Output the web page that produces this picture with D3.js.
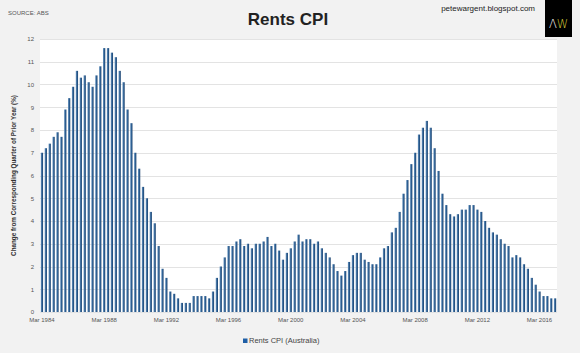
<!DOCTYPE html>
<html>
<head>
<meta charset="utf-8">
<script src="https://cdn.jsdelivr.net/npm/d3@7"></script>
<style>
  body { margin: 0; background: #f2f2f2; }
  svg { display: block; font-family: "Liberation Sans", Arial, sans-serif; }
  .grid line { stroke: #e3e3e3; stroke-width: 1px; }
  .axis text { fill: #555; font-size: 6px; }
  .axis path, .axis line { display: none; }
</style>
</head>
<body>
<div id="chart"></div>
<script>
// quarterly, Mar 1984 .. Mar 2017
var firstYear = 1984;
var quarterNames = ["Mar", "Jun", "Sep", "Dec"];

var rentsCpi = [
  7.0, 7.2, 7.4, 7.7, 7.9, 7.7, 8.9, 9.4, 9.9, 10.6, 10.3, 10.4, 10.1, 9.9, 10.4, 10.8,
  11.6, 11.6, 11.4, 11.2, 10.6, 10.1, 8.9, 8.3, 7.0, 6.3, 5.5, 5.0, 4.4, 3.9, 2.9, 1.9,
  1.5, 0.9, 0.8, 0.6, 0.4, 0.4, 0.4, 0.7, 0.7, 0.7, 0.7, 0.6, 0.9, 1.5, 2.0, 2.4,
  2.9, 2.9, 3.1, 3.2, 2.9, 3.0, 2.8, 3.0, 3.0, 3.1, 3.3, 2.9, 3.0, 2.7, 2.3, 2.6,
  2.8, 3.1, 3.4, 3.1, 3.2, 3.2, 3.0, 3.1, 2.8, 2.6, 2.4, 2.1, 1.8, 1.6, 1.8, 2.2,
  2.5, 2.6, 2.6, 2.3, 2.2, 2.1, 2.1, 2.4, 2.8, 2.9, 3.5, 3.7, 4.4, 5.2, 5.8, 6.5,
  7.0, 7.8, 8.1, 8.4, 8.1, 7.2, 6.2, 5.2, 4.7, 4.3, 4.2, 4.3, 4.5, 4.5, 4.7, 4.7,
  4.5, 4.4, 4.0, 3.7, 3.5, 3.4, 3.2, 3.0, 2.9, 2.4, 2.5, 2.4, 2.1, 1.9, 1.5, 1.2,
  0.9, 0.7, 0.7, 0.6, 0.6
];

var tickLabels = ["Mar 1984", "Mar 1988", "Mar 1992", "Mar 1996", "Mar 2000",
                  "Mar 2004", "Mar 2008", "Mar 2012", "Mar 2016"];
var yTicks = [0, 1, 2, 3, 4, 5, 6, 7, 8, 9, 10, 11, 12];

var quarters = rentsCpi.map(function(d, i) {
  return quarterNames[i % 4] + " " + (firstYear + Math.floor(i / 4));
});
var data = rentsCpi.map(function(v, i) { return { q: quarters[i], value: v }; });

var W = 580, H = 353;
var margin = { top: 39, right: 23, bottom: 41, left: 40 },
    width = W - margin.left - margin.right,
    height = H - margin.top - margin.bottom;

var svg = d3.select("#chart").append("svg")
    .attr("width", W)
    .attr("height", H);

var defs = svg.append("defs");
var grad = defs.append("linearGradient")
    .attr("id", "barGrad")
    .attr("x1", "0%").attr("x2", "100%").attr("y1", "0%").attr("y2", "0%");
grad.append("stop").attr("offset", "0%").attr("stop-color", "#6d98c2");
grad.append("stop").attr("offset", "55%").attr("stop-color", "#2d5f92");
grad.append("stop").attr("offset", "100%").attr("stop-color", "#1c426e");

var x = d3.scaleBand().domain(quarters).range([0, width]).paddingInner(0.42).paddingOuter(0.21);
var y = d3.scaleLinear().domain([0, 12]).range([height, 0]);

var g = svg.append("g").attr("transform", "translate(" + margin.left + "," + margin.top + ")");

// plot background
g.append("rect")
    .attr("width", width)
    .attr("height", height)
    .attr("fill", "#fff");

g.append("g")
    .attr("class", "grid")
  .selectAll("line")
  .data(yTicks)
  .enter().append("line")
    .attr("x1", 0)
    .attr("x2", width)
    .attr("y1", function(d) { return Math.round(y(d)) + 0.5; })
    .attr("y2", function(d) { return Math.round(y(d)) + 0.5; });

g.selectAll(".bar")
    .data(data)
  .enter().append("rect")
    .attr("class", "bar")
    .attr("x", function(d) { return x(d.q); })
    .attr("width", x.bandwidth())
    .attr("y", function(d) { return y(d.value); })
    .attr("height", function(d) { return height - y(d.value); })
    .attr("fill", "url(#barGrad)");

g.append("g")
    .attr("class", "axis")
    .call(d3.axisLeft(y).tickValues(yTicks).tickSize(0).tickPadding(6));

var xAxis = d3.axisBottom(x)
    .tickValues(tickLabels)
    .tickSize(0)
    .tickPadding(6);
g.append("g")
    .attr("class", "axis")
    .attr("transform", "translate(0," + height + ")")
    .call(xAxis);

// y axis title
svg.append("text")
    .attr("transform", "translate(16," + (margin.top + height / 2) + ") rotate(-90)")
    .attr("text-anchor", "middle")
    .attr("font-size", "6.3px")
    .attr("font-weight", "bold")
    .attr("fill", "#333")
    .text("Change from Corresponding Quarter of Prior Year (%)");

// title
svg.append("text")
    .attr("x", 288)
    .attr("y", 25)
    .attr("text-anchor", "middle")
    .attr("font-size", "17px")
    .attr("font-weight", "bold")
    .attr("fill", "#222")
    .text("Rents CPI");

svg.append("text")
    .attr("x", 8)
    .attr("y", 15)
    .attr("font-size", "6px")
    .attr("fill", "#555")
    .text("SOURCE: ABS");

svg.append("text")
    .attr("x", 535)
    .attr("y", 11)
    .attr("text-anchor", "end")
    .attr("font-size", "8px")
    .attr("fill", "#222")
    .text("petewargent.blogspot.com");

// logo
svg.append("rect")
    .attr("x", 545).attr("y", 0)
    .attr("width", 27).attr("height", 37)
    .attr("fill", "#000");
var logo = svg.append("text")
    .attr("x", 558.5)
    .attr("y", 28)
    .attr("text-anchor", "middle")
    .attr("font-size", "11.5px")
    .attr("font-family", "DejaVu Sans")
    .attr("font-weight", "200");
logo.append("tspan").attr("fill", "#fff").text("Λ");
logo.append("tspan").attr("fill", "#d6cc3a").text("W");

// legend
var legend = svg.append("g").attr("transform", "translate(243,338.5)");
legend.append("rect")
    .attr("width", 4.5).attr("height", 4.5)
    .attr("fill", "#1f5fa6");
legend.append("text")
    .attr("x", 6)
    .attr("y", 4.6)
    .attr("font-size", "7.5px")
    .attr("fill", "#444")
    .text("Rents CPI (Australia)");
</script>
</body>
</html>
